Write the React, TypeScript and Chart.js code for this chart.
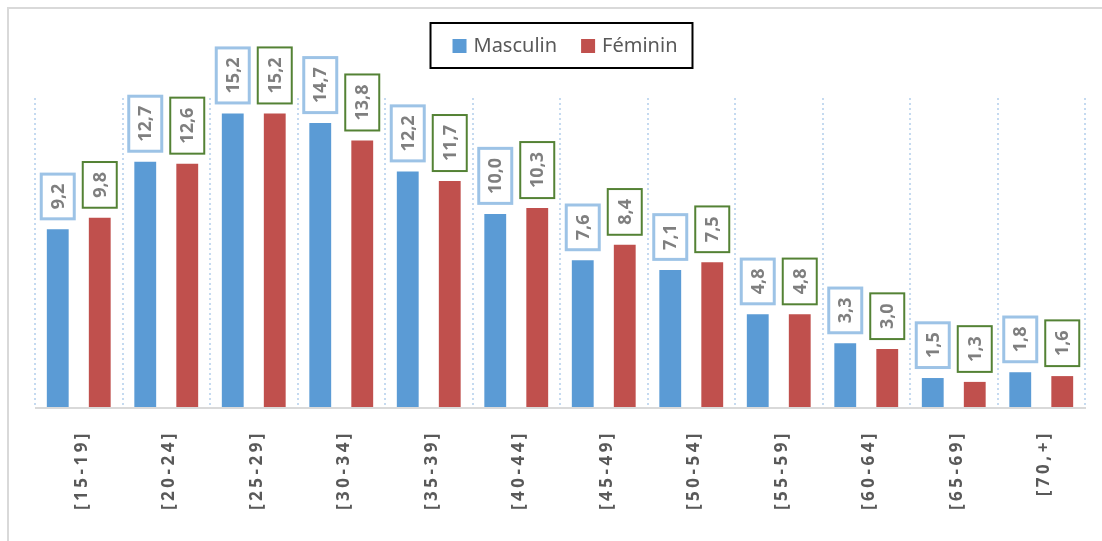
import React, { useEffect, useRef } from "react";
import { Chart, registerables } from "chart.js";

Chart.register(...registerables);

const categories = ["[15-19]", "[20-24]", "[25-29]", "[30-34]", "[35-39]", "[40-44]", "[45-49]", "[50-54]", "[55-59]", "[60-64]", "[65-69]", "[70,+]"];
const masculin = [9.2, 12.7, 15.2, 14.7, 12.2, 10.0, 7.6, 7.1, 4.8, 3.3, 1.5, 1.8];
const feminin = [9.8, 12.6, 15.2, 13.8, 11.7, 10.3, 8.4, 7.5, 4.8, 3.0, 1.3, 1.6];
const seriesNames = ["Masculin", "Féminin"];
const barColors = ["#5b9bd5", "#c0504d"];
const labelBorderColors = ["#9dc3e6", "#548235"];
const labelBorderWidths = [3, 2];

const FONT = '"Noto Sans", "Open Sans", sans-serif';

const fmt = (v: number) => v.toFixed(1).replace(".", ",");

const decorPlugin = {
  id: "decor",
  beforeDraw(chart: any) {
    const ctx = chart.ctx;
    ctx.save();
    ctx.fillStyle = "#ffffff";
    ctx.fillRect(0, 0, chart.width, chart.height);
    ctx.strokeStyle = "#d9d9d9";
    ctx.lineWidth = 2;
    ctx.strokeRect(8, 8, chart.width + 50, chart.height + 50);
    ctx.restore();
  },
  beforeDatasetsDraw(chart: any) {
    const ctx = chart.ctx;
    const a = chart.chartArea;
    ctx.save();
    ctx.strokeStyle = "#d9d9d9";
    ctx.lineWidth = 2;
    ctx.beginPath();
    ctx.moveTo(a.left, a.bottom + 1);
    ctx.lineTo(a.right + 1, a.bottom + 1);
    ctx.stroke();
    ctx.restore();
  },
  afterDatasetsDraw(chart: any) {
    const ctx = chart.ctx;
    // data labels
    chart.data.datasets.forEach((ds: any, di: number) => {
      const meta = chart.getDatasetMeta(di);
      meta.data.forEach((el: any, i: number) => {
        const txt = fmt(ds.data[i]);
        ctx.save();
        ctx.font = `bold 18px ${FONT}`;
        const w = ctx.measureText(txt).width;
        const bw = labelBorderWidths[di];
        const boxW = 36;
        const boxH = w + 22;
        const bottom = el.y - 9;
        const top = bottom - boxH;
        const left = el.x - boxW / 2;
        ctx.fillStyle = "#ffffff";
        ctx.fillRect(left, top, boxW, boxH);
        ctx.strokeStyle = labelBorderColors[di];
        ctx.lineWidth = bw;
        ctx.strokeRect(left + bw / 2, top + bw / 2, boxW - bw, boxH - bw);
        ctx.translate(el.x + 1, top + boxH / 2);
        ctx.rotate(-Math.PI / 2);
        ctx.fillStyle = "#7f7f7f";
        ctx.textAlign = "center";
        ctx.textBaseline = "middle";
        ctx.fillText(txt, 0, 0);
        ctx.restore();
      });
    });
  },
  afterDraw(chart: any) {
    const ctx = chart.ctx;
    const a = chart.chartArea;
    const xScale = chart.scales.x;
    // x labels
    chart.data.labels.forEach((lab: string, i: number) => {
      const x = xScale.getPixelForTick(i);
      ctx.save();
      ctx.font = `bold 17px ${FONT}`;
      (ctx as any).letterSpacing = "3.5px";
      ctx.translate(x + 3, a.bottom + 23);
      ctx.rotate(-Math.PI / 2);
      ctx.fillStyle = "#595959";
      ctx.textAlign = "right";
      ctx.textBaseline = "middle";
      ctx.fillText(lab, 0, 0);
      ctx.restore();
    });
    // legend
    ctx.save();
    ctx.font = `20px ${FONT}`;
    const box = 14;
    const gap = 7;
    const itemGap = 24;
    const widths = chart.data.datasets.map((d: any) => ctx.measureText(d.label).width);
    const total = widths.reduce((s: number, w: number) => s + box + gap + w, 0) + itemGap * (widths.length - 1);
    const cx = (a.left + a.right) / 2 + 5;
    let x = cx - total / 2;
    const cy = 46;
    const groupLeft = x;
    chart.data.datasets.forEach((d: any, i: number) => {
      ctx.fillStyle = d.backgroundColor;
      ctx.fillRect(x, cy - box / 2, box, box);
      x += box + gap;
      ctx.fillStyle = "#595959";
      ctx.textAlign = "left";
      ctx.textBaseline = "middle";
      ctx.fillText(d.label, x, cy);
      x += widths[i] + itemGap;
    });
    const groupRight = x - itemGap;
    ctx.strokeStyle = "#000000";
    ctx.lineWidth = 2;
    ctx.strokeRect(groupLeft - 22, 23, groupRight - groupLeft + 37, 45);
    ctx.restore();
  },
};

export default function App() {
  const ref = useRef<HTMLCanvasElement | null>(null);
  useEffect(() => {
    if (!ref.current) return;
    const chart = new Chart(ref.current, {
      type: "bar",
      data: {
        labels: categories,
        datasets: [
          { label: seriesNames[0], data: masculin, backgroundColor: barColors[0], borderWidth: 0 },
          { label: seriesNames[1], data: feminin, backgroundColor: barColors[1], borderWidth: 0 },
        ],
      },
      options: {
        responsive: false,
        animation: false,
        layout: { padding: { left: 35, right: 17, top: 98, bottom: 134 } },
        datasets: { bar: { categoryPercentage: 0.96, barPercentage: 0.52 } },
        plugins: { legend: { display: false }, tooltip: { enabled: false } },
        scales: {
          x: {
            ticks: { display: false },
            grid: {
              display: true,
              drawTicks: false,
              color: "#c5daf0",
              lineWidth: 2,
              offset: true,
            },
            border: { display: false, dash: [2, 3] },
          },
          y: {
            display: false,
            min: 0,
            max: 16,
          },
        },
      },
      plugins: [decorPlugin],
    });
    return () => chart.destroy();
  }, []);
  return (
    <div style={{ position: "absolute", left: 0, top: 0, width: 1102, height: 541 }}>
      <canvas ref={ref} width={1102} height={541} style={{ display: "block" }} />
    </div>
  );
}
